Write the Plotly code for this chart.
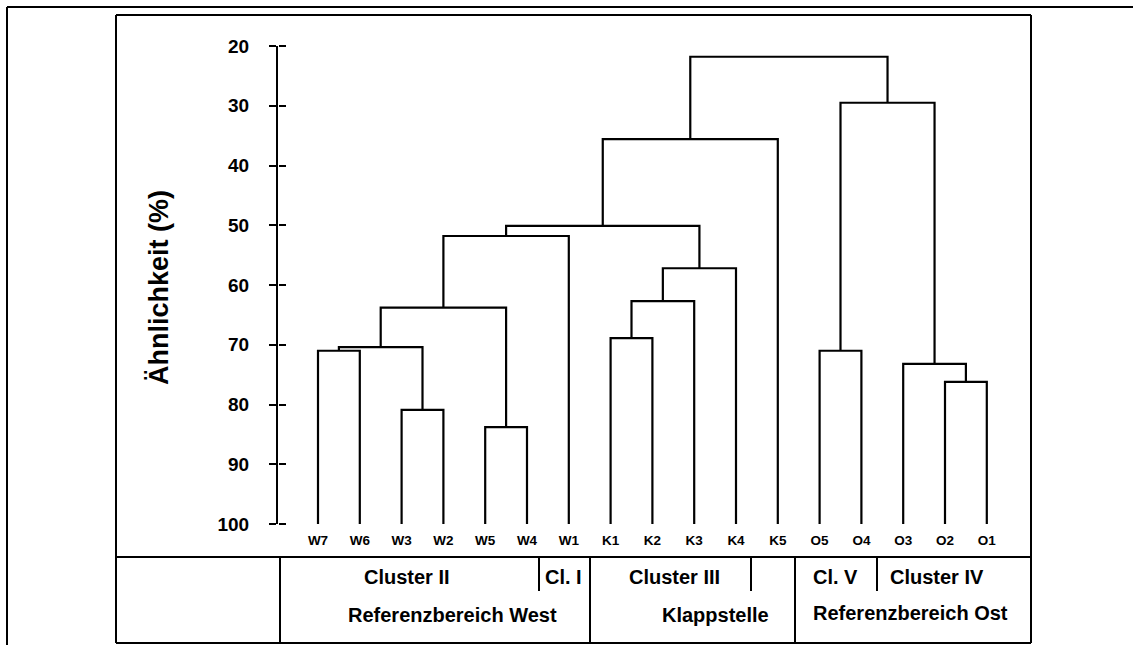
import plotly.graph_objects as go

# ---------------- data ----------------
leaves = ["W7", "W6", "W3", "W2", "W5", "W4", "W1",
          "K1", "K2", "K3", "K4", "K5",
          "O5", "O4", "O3", "O2", "O1"]

merge_names = ["n1", "n2", "n3", "n4", "n5", "n6", "n7", "n8",
               "n9", "n10", "n11", "n12", "n13", "n14", "n15", "n16"]
merge_left = ["W7", "W3", "n1", "W5", "n3", "n5", "K1", "n7",
              "n8", "n6", "n10", "O5", "O2", "O3", "n12", "n11"]
merge_right = ["W6", "W2", "n2", "W4", "n4", "W1", "K2", "K3",
               "K4", "n9", "K5", "O4", "O1", "n13", "n14", "n15"]
merge_height = [71.0, 80.9, 70.4, 83.8, 63.8, 51.8, 68.9, 62.7,
                57.2, 50.1, 35.6, 71.0, 76.2, 73.2, 29.5, 21.8]

y_ticks = [20, 30, 40, 50, 60, 70, 80, 90, 100]
y_title = "Ähnlichkeit (%)"

cluster_labels = ["Cluster II", "Cl. I", "Cluster III", "Cl. V", "Cluster IV"]
region_labels = ["Referenzbereich West", "Klappstelle", "Referenzbereich Ost"]

# ---------------- layout helpers ----------------
W, H = 1133, 645
FONT = "Liberation Sans, Arial, sans-serif"


def px(x):
    return x / W


def py(y):
    return 1 - y / H


# dendrogram geometry (via the data axes)
pos = {name: float(i) for i, name in enumerate(leaves)}
hgt = {name: 100.0 for name in leaves}
xs, ys = [], []
for n, l, r, h in zip(merge_names, merge_left, merge_right, merge_height):
    xl, xr = pos[l], pos[r]
    xs += [xl, xl, xr, xr, None]
    ys += [hgt[l], h, h, hgt[r], None]
    pos[n] = (xl + xr) / 2
    hgt[n] = h

fig = go.Figure()
fig.add_trace(go.Scatter(x=xs, y=ys, mode="lines",
                         line=dict(color="black", width=2.2),
                         hoverinfo="skip", showlegend=False))
# helper trace for the mirrored tick axis
fig.add_trace(go.Scatter(x=[0], y=[100], yaxis="y2", mode="markers",
                         marker=dict(opacity=0), hoverinfo="skip",
                         showlegend=False))

axis_x0 = 278
leaf0_px = 318
step_px = 41.8
right_px = 1031
x_range = [(axis_x0 - leaf0_px) / step_px, (right_px - leaf0_px) / step_px]

y_top_px, y_bot_px = 46, 524
ydom = [py(y_bot_px), py(y_top_px)]

fig.update_layout(
    width=W, height=H,
    margin=dict(l=0, r=0, t=0, b=0, pad=0, autoexpand=False),
    paper_bgcolor="white", plot_bgcolor="white",
    showlegend=False,
    xaxis=dict(domain=[px(axis_x0), px(right_px)], range=x_range,
               tickmode="array", tickvals=list(range(len(leaves))),
               ticktext=leaves, ticks="", showline=False,
               showgrid=False, zeroline=False, automargin=False,
               tickfont=dict(family=FONT, size=13.5, color="black",
                             weight="bold"),
               ticklabelstandoff=6),
    yaxis=dict(domain=ydom, range=[100, 20], tickmode="array",
               tickvals=y_ticks, ticks="outside", ticklen=7,
               tickwidth=1.5, tickcolor="black", automargin=False,
               showline=True, linewidth=2, linecolor="black",
               showgrid=False, zeroline=False,
               tickfont=dict(family=FONT, size=19, color="black",
                             weight="bold"),
               ticklabelstandoff=16),
    yaxis2=dict(overlaying="y", anchor="free", position=px(axis_x0),
                side="right", range=[100, 20], tickmode="array",
                tickvals=y_ticks, ticks="outside", ticklen=7,
                tickwidth=1.5, tickcolor="black", showticklabels=False,
                automargin=False,
                showline=False, showgrid=False, zeroline=False),
)

# ---------------- frames and table lines ----------------
line_style = dict(color="black", width=2)
segments = [
    # outer frame
    (7, 7, W, 7), (7, 7, 7, H),
    # inner frame
    (116, 15, 1031, 15), (116, 15, 116, 643), (1031, 15, 1031, 643),
    (116, 643, 1031, 643),
    # table
    (116, 557, 1031, 557),
    (280, 557, 280, 643), (590, 557, 590, 643), (795, 557, 795, 643),
    (539, 557, 539, 591), (751, 557, 751, 591), (877, 557, 877, 591),
]
for x0, y0, x1, y1 in segments:
    fig.add_shape(type="line", xref="paper", yref="paper",
                  x0=px(x0), y0=py(y0), x1=px(x1), y1=py(y1),
                  line=line_style, layer="above")

# ---------------- texts ----------------
cluster_pos = [(407, 577), (563, 577), (674, 577), (835, 577), (937, 577)]
region_pos = [(452, 615), (715, 615), (910, 613)]
for txt, (x, y) in zip(cluster_labels, cluster_pos):
    fig.add_annotation(text=txt, xref="paper", yref="paper", x=px(x), y=py(y),
                       showarrow=False, xanchor="center", yanchor="middle",
                       font=dict(family=FONT, size=20, color="black",
                                 weight="bold"))
for txt, (x, y) in zip(region_labels, region_pos):
    fig.add_annotation(text=txt, xref="paper", yref="paper", x=px(x), y=py(y),
                       showarrow=False, xanchor="center", yanchor="middle",
                       font=dict(family=FONT, size=20, color="black",
                                 weight="bold"))

fig.add_annotation(text=y_title, xref="paper", yref="paper", x=px(159),
                   y=py(288), textangle=-90, showarrow=False,
                   xanchor="center", yanchor="middle",
                   font=dict(family=FONT, size=27, color="black",
                             weight="bold"))

fig.write_html(
    "out.html",
    config={"displayModeBar": False},
    post_script="document.body.style.margin='0';"
                "document.body.style.overflow='hidden';",
)
